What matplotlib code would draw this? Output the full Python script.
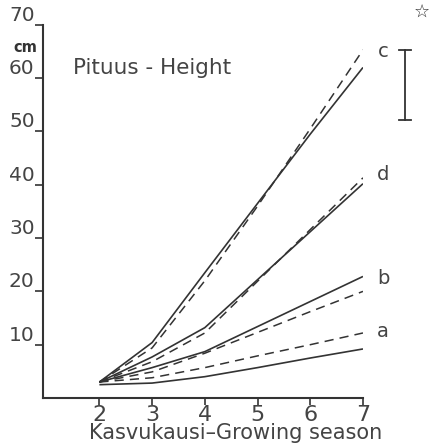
import matplotlib.pyplot as plt

seasons = [2, 3, 4, 5, 6, 7]
a_solid = [2.5, 2.8, 4.0, 5.7, 7.5, 9.2]
a_dash = [3.0, 3.8, 5.7, 7.9, 10.0, 12.2]
b_solid = [3.0, 5.7, 8.7, 13.4, 18.1, 22.8]
b_dash = [3.0, 4.9, 8.4, 12.3, 16.2, 20.0]
d_solid = [3.0, 7.7, 13.2, 22.2, 31.2, 40.2]
d_dash = [3.0, 6.8, 12.2, 21.9, 31.6, 41.3]
c_solid = [3.0, 10.4, 23.5, 36.5, 49.5, 62.0]
c_dash = [3.0, 9.4, 22.0, 36.0, 50.5, 65.3]
labels = ['a', 'b', 'd', 'c']
label_y = [12.5, 22.5, 42.0, 65.0]
yticks = [10, 20, 30, 40, 50, 60, 70]
err_x, err_lo, err_hi = 7.8, 52.1, 65.3

ink = '#333333'
txt = '#444444'
plt.rcParams['font.family'] = 'DejaVu Sans'

fg = plt.figure(figsize=(4.33, 4.48), dpi=100)
ax = fg.add_axes([0.0993, 0.1116, 0.739, 0.833])

for s, d in [(a_solid, a_dash), (b_solid, b_dash), (d_solid, d_dash), (c_solid, c_dash)]:
    ax.plot(seasons, s, color=ink, lw=1.2, solid_capstyle='butt')
    ax.plot(seasons, d, color=ink, lw=1.1, dashes=(6, 4))

for lb, ly in zip(labels, label_y):
    ax.text(7.38, ly, lb, fontsize=14, color=txt, ha='center', va='center')

# error bar + star
ax.plot([err_x, err_x], [err_lo, err_hi], color=ink, lw=1.3, clip_on=False)
for yy in (err_lo, err_hi):
    ax.plot([err_x - 0.11, err_x + 0.11], [yy, yy], color=ink, lw=1.3, clip_on=False)
ax.text(8.12, 72.4, '\u2606', fontsize=13, color=ink, ha='center', va='center')

ax.text(1.5, 60, 'Pituus - Height', fontsize=15.5, color=txt, va='bottom')
fg.text(0.03, 0.895, 'cm', fontsize=10.5, fontweight='bold', color=ink, va='center')

ax.set_xlim(0.93, 7)
ax.set_ylim(0, 70)
ax.set_xticks(seasons)
ax.set_yticks(yticks)
ax.tick_params(axis='x', direction='out', length=5, width=1.2, colors=ink,
               labelsize=16, labelcolor=txt, pad=0)
ax.tick_params(axis='y', direction='out', length=6, width=1.2, colors=ink,
               labelsize=14.5, labelcolor=txt, pad=0)
for t in ax.get_yticklabels():
    t.set_va('bottom')
fg.text(0.545, 0.02, 'Kasvukausi\u2013Growing season', fontsize=15, color=txt,
        ha='center', va='baseline')

for sp in ['top', 'right']:
    ax.spines[sp].set_visible(False)
for sp in ['left', 'bottom']:
    ax.spines[sp].set_linewidth(1.5)
    ax.spines[sp].set_color(ink)

fg.savefig('out.png', dpi=100)
